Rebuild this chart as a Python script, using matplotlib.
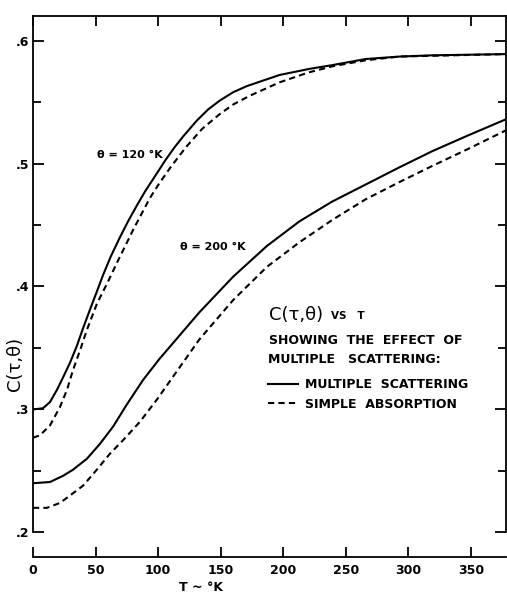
import numpy as np
import matplotlib
matplotlib.use("Agg")
import matplotlib.pyplot as plt

plt.rcParams['font.family'] = ['DejaVu Sans']

# theta = 120 K : multiple scattering / simple absorption
t120_ms = [0, 8, 13.6, 19.2, 24, 29.6, 35.2, 40, 45.5, 51.1, 55.9, 62, 69.5, 76, 83.1, 90, 99, 106,
           113, 120, 131, 140, 149, 160, 171, 197, 221, 239, 266, 293, 319, 378]
c120_ms = [0.300, 0.301, 0.306, 0.316, 0.326, 0.338, 0.352, 0.366, 0.381, 0.396, 0.409, 0.424, 0.440,
           0.453, 0.466, 0.478, 0.492, 0.503, 0.513, 0.522, 0.535, 0.544, 0.551, 0.558, 0.563, 0.572,
           0.577, 0.580, 0.585, 0.587, 0.588, 0.589]
t120_sa = [0, 5.6, 13.6, 21.6, 27.2, 32, 37.6, 43.2, 51.1, 60, 67, 80, 93.5, 101, 110, 122, 135, 149,
           160, 173, 197, 220, 239, 266, 293, 378]
c120_sa = [0.277, 0.279, 0.287, 0.302, 0.316, 0.332, 0.348, 0.365, 0.386, 0.404, 0.419, 0.446, 0.472,
           0.484, 0.497, 0.513, 0.528, 0.540, 0.548, 0.555, 0.566, 0.574, 0.579, 0.584, 0.587, 0.589]

# theta = 200 K
t200_ms = [0, 13.6, 24, 32, 43.2, 53.5, 64, 75, 88, 101, 133, 160, 187, 213, 239, 266, 293, 319, 348, 378]
c200_ms = [0.240, 0.241, 0.246, 0.251, 0.260, 0.272, 0.286, 0.304, 0.324, 0.341, 0.379, 0.408, 0.433,
           0.453, 0.469, 0.483, 0.497, 0.510, 0.523, 0.536]
t200_sa = [0, 11.2, 21.6, 29.6, 40, 51, 61.5, 72, 85.5, 99, 133, 160, 187, 213, 239, 266, 293, 319, 348, 378]
c200_sa = [0.220, 0.220, 0.224, 0.230, 0.238, 0.251, 0.264, 0.275, 0.290, 0.308, 0.357, 0.389, 0.416,
           0.436, 0.454, 0.471, 0.485, 0.498, 0.512, 0.527]

xticks = [0, 50, 100, 150, 200, 250, 300, 350]
yticks = [0.2, 0.3, 0.4, 0.5, 0.6]
ylabels = ['.2', '.3', '.4', '.5', '.6']
yminor = [0.25, 0.35, 0.45, 0.55]

fig = plt.figure(figsize=(5.07, 5.96), dpi=100)
ax = fig.add_axes([0.065, 0.0654, 0.933, 0.9078])

dash = (0, (3, 2))
l_ms, = ax.plot(t120_ms, c120_ms, color='black', lw=1.5)
l_sa, = ax.plot(t120_sa, c120_sa, color='black', lw=1.5, linestyle=dash)
ax.plot(t200_ms, c200_ms, color='black', lw=1.5)
ax.plot(t200_sa, c200_sa, color='black', lw=1.5, linestyle=dash)

ax.set_xlim(0, 378)
ax.set_ylim(0.18, 0.62)

# frame: the vertical sides stop at .2, the T axis sits a bit lower
for s in ['left', 'right', 'top', 'bottom']:
    ax.spines[s].set_linewidth(1.3)
ax.spines['left'].set_bounds(0.2, 0.62)
ax.spines['right'].set_bounds(0.2, 0.62)

ax.set_xticks(xticks)
ax.set_xticklabels([str(v) for v in xticks], fontsize=9, fontweight='bold')
ax.set_yticks(yticks)
ax.set_yticklabels(ylabels, fontsize=9, fontweight='bold')
ax.set_yticks(yminor, minor=True)
ax.tick_params(axis='x', which='both', direction='in', length=7, width=1.3,
               top=True, labeltop=False, pad=5)
ax.tick_params(axis='y', which='major', direction='in', length=8, width=1.3,
               right=True, pad=3)
ax.tick_params(axis='y', which='minor', direction='in', length=6, width=1.3,
               right=True)

ax.text(0.355, -0.057, 'T ~ °K', fontsize=9, fontweight='bold', ha='center', va='center',
        transform=ax.transAxes)
ax.text(-14.5, 0.337, 'C(τ,θ)', fontsize=13, rotation=90, ha='center', va='center', clip_on=False)

ax.text(51, 0.507, 'θ = 120 °K', fontsize=8, fontweight='bold', va='center')
ax.text(117.5, 0.4325, 'θ = 200 °K', fontsize=8, fontweight='bold', va='center')

ax.text(189, 0.377, 'C(τ,θ)', fontsize=13, va='center')
ax.text(238, 0.376, 'VS   T', fontsize=7.5, fontweight='bold', va='center')
ax.text(189, 0.356, 'SHOWING  THE  EFFECT  OF', fontsize=9, fontweight='bold', va='center')
ax.text(188, 0.341, 'MULTIPLE   SCATTERING:', fontsize=9, fontweight='bold', va='center')

ax.legend([l_ms, l_sa], ['MULTIPLE  SCATTERING', 'SIMPLE  ABSORPTION'],
          loc='upper left', bbox_to_anchor=(0.497, 0.330), frameon=False,
          borderaxespad=0, borderpad=0,
          handlelength=2.4, handletextpad=0.55, labelspacing=0.5,
          prop={'size': 9, 'weight': 'bold'})

fig.savefig('out.png', dpi=100)
